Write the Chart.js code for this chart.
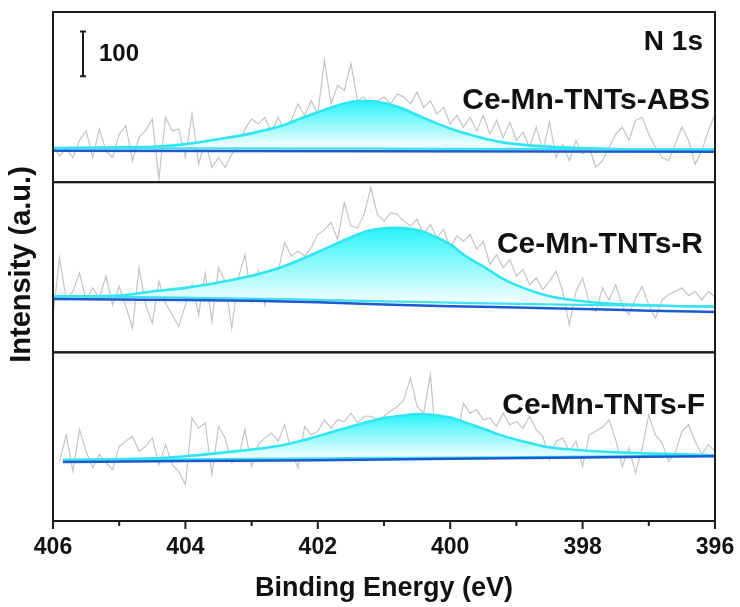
<!DOCTYPE html>
<html>
<head>
<meta charset="utf-8">
<title>N 1s XPS spectra</title>
<script src="https://cdn.jsdelivr.net/npm/chart.js@4.4.1/dist/chart.umd.min.js"></script>
<style>
  html, body { margin: 0; padding: 0; background: #fff; }
  canvas { display: block; }
</style>
</head>
<body>
<canvas id="xps" width="740" height="607"></canvas>
<script>
// binding energy of the raw scans (eV), 0.1 eV step
const energy = [
  406.0, 405.9, 405.8, 405.7, 405.6, 405.5, 405.4, 405.3, 405.2, 405.1,
  405.0, 404.9, 404.8, 404.7, 404.6, 404.5, 404.4, 404.3, 404.2, 404.1,
  404.0, 403.9, 403.8, 403.7, 403.6, 403.5, 403.4, 403.3, 403.2, 403.1,
  403.0, 402.9, 402.8, 402.7, 402.6, 402.5, 402.4, 402.3, 402.2, 402.1,
  402.0, 401.9, 401.8, 401.7, 401.6, 401.5, 401.4, 401.3, 401.2, 401.1,
  401.0, 400.9, 400.8, 400.7, 400.6, 400.5, 400.4, 400.3, 400.2, 400.1,
  400.0, 399.9, 399.8, 399.7, 399.6, 399.5, 399.4, 399.3, 399.2, 399.1,
  399.0, 398.9, 398.8, 398.7, 398.6, 398.5, 398.4, 398.3, 398.2, 398.1,
  398.0, 397.9, 397.8, 397.7, 397.6, 397.5, 397.4, 397.3, 397.2, 397.1,
  397.0, 396.9, 396.8, 396.7, 396.6, 396.5, 396.4, 396.3, 396.2, 396.1,
  396.0
];

// raw counts (offset per panel)
const rawABS = [
  78, 59, 74, 55, 93, 115, 55, 119, 70, 55,
  107, 126, 48, 100, 115, 141, 7, 145, 115, 119,
  55, 152, 40, 93, 33, 55, 33, 63, 78, 119,
  141, 130, 145, 111, 145, 115, 138, 175, 149, 182,
  152, 272, 175, 216, 205, 265, 182, 190, 167, 182,
  190, 175, 197, 190, 175, 201, 167, 182, 152, 167,
  130, 149, 123, 145, 115, 149, 107, 138, 100, 134,
  93, 111, 78, 123, 70, 134, 55, 85, 48, 93,
  63, 78, 33, 48, 78, 107, 123, 93, 138, 145,
  107, 78, 55, 48, 85, 123, 93, 40, 70, 115,
  152
];
const rawR = [
  84, 211, 117, 136, 177, 117, 144, 121, 170, 106,
  147, 103, 54, 189, 106, 65, 159, 110, 84, 58,
  106, 151, 84, 177, 69, 189, 159, 54, 166, 218,
  114, 181, 106, 159, 181, 245, 215, 226, 215, 233,
  263, 274, 290, 252, 334, 282, 278, 308, 368, 308,
  293, 312, 308, 293, 282, 297, 263, 286, 256, 275,
  233, 260, 248, 263, 230, 248, 196, 218, 189, 207,
  170, 185, 151, 166, 140, 159, 181, 136, 61, 136,
  166, 110, 91, 144, 117, 151, 103, 84, 121, 147,
  106, 76, 117, 129, 136, 144, 127, 136, 117, 136,
  123
];
const rawF = [
  null, 135, 194, 112, 206, 157, 120, 150, 131, 116,
  168, 180, 191, 157, 168, 187, 127, 172, 127, 112,
  82, 232, 209, 221, 105, 213, 187, 131, 142, 206,
  123, 172, 187, 198, 180, 217, 157, 120, 213, 194,
  202, 228, 209, 228, 224, 243, 221, 236, 236, 228,
  236, 247, 258, 273, 322, 258, 243, 329, 157, 206,
  228, 187, 265, 243, 251, 228, 232, 213, 243, 217,
  224, 209, 236, 206, 191, 138, 180, 187, 157, 180,
  123, 194, 203, 211, 228, 183, 123, 165, 108, 165,
  239, 194, 176, 135, 153, 202, 217, 179, 150, 172,
  157
];

// fitted N 1s envelopes
const fitEnergyABS = [406, 405, 404.5, 404, 403.5, 403, 402.5, 402.25, 402, 401.75, 401.5, 401.25, 401,
  400.75, 400.5, 400.25, 400, 399.75, 399.5, 399.25, 399, 398.5, 398, 397.5, 397, 396];
const fitABS = [76, 78, 79, 85, 96, 109, 128, 143, 156, 169, 179, 181, 177,
  166, 150, 134, 120, 108, 98, 90, 85, 79, 76, 74, 73, 73];

const fitEnergyR = [406, 405, 404.5, 404, 403.5, 403, 402.5, 402, 401.5, 401.25, 401, 400.8,
  400.5, 400.25, 400, 399.75, 399.5, 399.25, 399, 398.5, 398, 397.5, 397, 396.5, 396];
const fitR = [125, 127, 136, 144, 156, 171, 193, 224, 257, 271, 277, 278,
  273, 260, 241, 213, 192, 168, 150, 125, 114, 108, 105, 103, 102];

const fitEnergyF = [405.85, 404.5, 404, 403.5, 403, 402.5, 402, 401.5, 401, 400.75, 400.5, 400.25,
  400, 399.75, 399.5, 399.25, 399, 398.75, 398.5, 398, 397.5, 397, 396.5, 396];
const fitF = [138, 141, 146, 153, 161, 172, 191, 213, 232, 237, 241, 239,
  233, 221, 208, 194, 183, 174, 166, 159, 155, 152, 150, 148];

// backgrounds: peak base (cyan) and overall background (blue)
const bgEnergyABS = [406, 401, 396];
const peakBaseABS = [76, 75, 73];
const bgABS = [70, 69, 68];

const bgEnergyR = [406, 405, 404, 403, 402, 401, 400, 399, 398, 397, 396];
const peakBaseR = [125, 124, 122, 120, 117, 114, 111, 108, 106, 104, 102];
const bgR = [119, 118, 117, 115, 112, 107, 103, 100, 97, 93, 90];

const bgEnergyF = [405.85, 404, 402, 400, 398, 396];
const peakBaseF = [137, 139, 141, 143, 145, 148];
const bgF = [133, 135, 137, 140, 143, 146];

const xTicks = [396, 397, 398, 399, 400, 401, 402, 403, 404, 405, 406];
const sampleNames = ['Ce-Mn-TNTs-ABS', 'Ce-Mn-TNTs-R', 'Ce-Mn-TNTs-F'];
const coreLevel = 'N 1s';
const scaleBarCounts = 100;

const FONT = "'Liberation Sans', Arial, sans-serif";

const pts = (xs, ys) => xs.map((x, i) => ({ x: x, y: ys[i] }));

function peakFill(yId, fit, base) {
  return (c) => {
    const chart = c.chart;
    if (!chart.chartArea) return 'rgba(60,240,250,0.6)';
    const s = chart.scales[yId];
    const top = s.getPixelForValue(Math.max(...fit));
    const bottom = s.getPixelForValue(Math.min(...base));
    const g = chart.ctx.createLinearGradient(0, top, 0, bottom);
    g.addColorStop(0, 'rgb(40,243,250)');
    g.addColorStop(0.5, 'rgb(150,249,252)');
    g.addColorStop(1, 'rgba(255,255,255,0.97)');
    return g;
  };
}

function panelSets(yId, raw, fitE, fit, bgE, peakBase, bg) {
  return [
    { data: pts(energy, raw), yAxisID: yId, borderColor: '#c4c4c4', borderWidth: 1.2,
      pointRadius: 0, tension: 0, order: 4 },
    { data: pts(bgE, bg), yAxisID: yId, borderColor: '#1c5ad2', borderWidth: 2.5,
      pointRadius: 0, cubicInterpolationMode: 'monotone', order: 1 },
    { data: pts(bgE, peakBase), yAxisID: yId, borderColor: '#3ee3f0', borderWidth: 2.2,
      pointRadius: 0, cubicInterpolationMode: 'monotone', order: 2 },
    { data: pts(fitE, fit), yAxisID: yId, borderColor: '#30e6f2', borderWidth: 2.6,
      pointRadius: 0, cubicInterpolationMode: 'monotone', order: 3,
      fill: '-1', backgroundColor: peakFill(yId, fit, peakBase) }
  ];
}

const datasets = [].concat(
  panelSets('y1', rawABS, fitEnergyABS, fitABS, bgEnergyABS, peakBaseABS, bgABS),
  panelSets('y2', rawR, fitEnergyR, fitR, bgEnergyR, peakBaseR, bgR),
  panelSets('y3', rawF, fitEnergyF, fitF, bgEnergyF, peakBaseF, bgF)
);

// frames, tick marks, labels and scale bar
const decorations = {
  id: 'decorations',
  afterDraw(chart) {
    const { ctx, chartArea: a, scales } = chart;
    ctx.save();
    ctx.strokeStyle = '#1c1c1c';
    ctx.lineWidth = 2;
    ['y1', 'y2', 'y3'].forEach(id => {
      const s = scales[id];
      ctx.strokeRect(a.left, s.top, a.right - a.left, s.bottom - s.top);
    });

    const x = scales.x;
    x.ticks.forEach(t => {
      const px = x.getPixelForValue(t.value);
      const len = t.value % 2 === 0 ? 8 : 5;
      ctx.beginPath();
      ctx.moveTo(px, a.bottom);
      ctx.lineTo(px, a.bottom + len);
      ctx.stroke();
    });

    ctx.fillStyle = '#111';
    ctx.textBaseline = 'middle';

    // y title
    ctx.save();
    ctx.translate(22, (a.top + a.bottom) / 2 - 2);
    ctx.rotate(-Math.PI / 2);
    ctx.textAlign = 'center';
    ctx.font = 'bold 29px ' + FONT;
    ctx.fillText('Intensity (a.u.)', 0, 0);
    ctx.restore();

    // core level and sample names
    ctx.textAlign = 'right';
    ctx.font = 'bold 28px ' + FONT;
    ctx.fillText(coreLevel, a.right - 12, scales.y1.top + 30);
    ctx.font = 'bold 30px ' + FONT;
    ctx.fillText(sampleNames[0], a.right - 5, scales.y1.top + 89);
    ctx.fillText(sampleNames[1], a.right - 12, scales.y2.top + 63);
    ctx.fillText(sampleNames[2], a.right - 10, scales.y3.top + 53);

    // intensity scale bar
    const s1 = scales.y1;
    const barLen = s1.getPixelForValue(0) - s1.getPixelForValue(scaleBarCounts);
    const bx = a.left + 30;
    const by = s1.top + 19.5;
    ctx.lineWidth = 2;
    ctx.beginPath();
    ctx.moveTo(bx, by); ctx.lineTo(bx, by + barLen);
    ctx.moveTo(bx - 3, by); ctx.lineTo(bx + 3, by);
    ctx.moveTo(bx - 3, by + barLen); ctx.lineTo(bx + 3, by + barLen);
    ctx.stroke();
    ctx.textAlign = 'left';
    ctx.font = 'bold 24px ' + FONT;
    ctx.fillText(String(scaleBarCounts), bx + 16, by + barLen / 2);
    ctx.restore();
  }
};

const panelY = (weight, stackWeight) => ({
  type: 'linear', position: 'left', stack: 'panels', stackWeight: stackWeight,
  weight: weight, min: 0, max: 380, display: false
});

new Chart(document.getElementById('xps'), {
  type: 'line',
  data: { datasets: datasets },
  options: {
    responsive: false,
    animation: false,
    devicePixelRatio: 1,
    layout: { padding: { left: 53, right: 25, top: 12, bottom: 0 } },
    plugins: { legend: { display: false }, tooltip: { enabled: false } },
    scales: {
      x: {
        type: 'linear', reverse: true, min: 396, max: 406,
        afterFit: (s) => { s.height = 86; },
        afterBuildTicks: (s) => { s.ticks = xTicks.map(v => ({ value: v })); },
        ticks: {
          autoSkip: false, maxRotation: 0, padding: 5, color: '#111',
          font: { family: FONT, size: 23, weight: 'bold' },
          callback: (v) => (v % 2 === 0 ? String(v) : '')
        },
        grid: { display: false, drawTicks: true, tickLength: 8 },
        border: { display: false },
        title: {
          display: true, text: 'Binding Energy (eV)', color: '#111',
          font: { family: FONT, size: 27, weight: 'bold' },
          padding: { top: 0, bottom: 2 }
        }
      },
      y1: panelY(3, 170),
      y2: panelY(2, 170),
      y3: panelY(1, 168.5)
    }
  },
  plugins: [decorations]
});
</script>
</body>
</html>
